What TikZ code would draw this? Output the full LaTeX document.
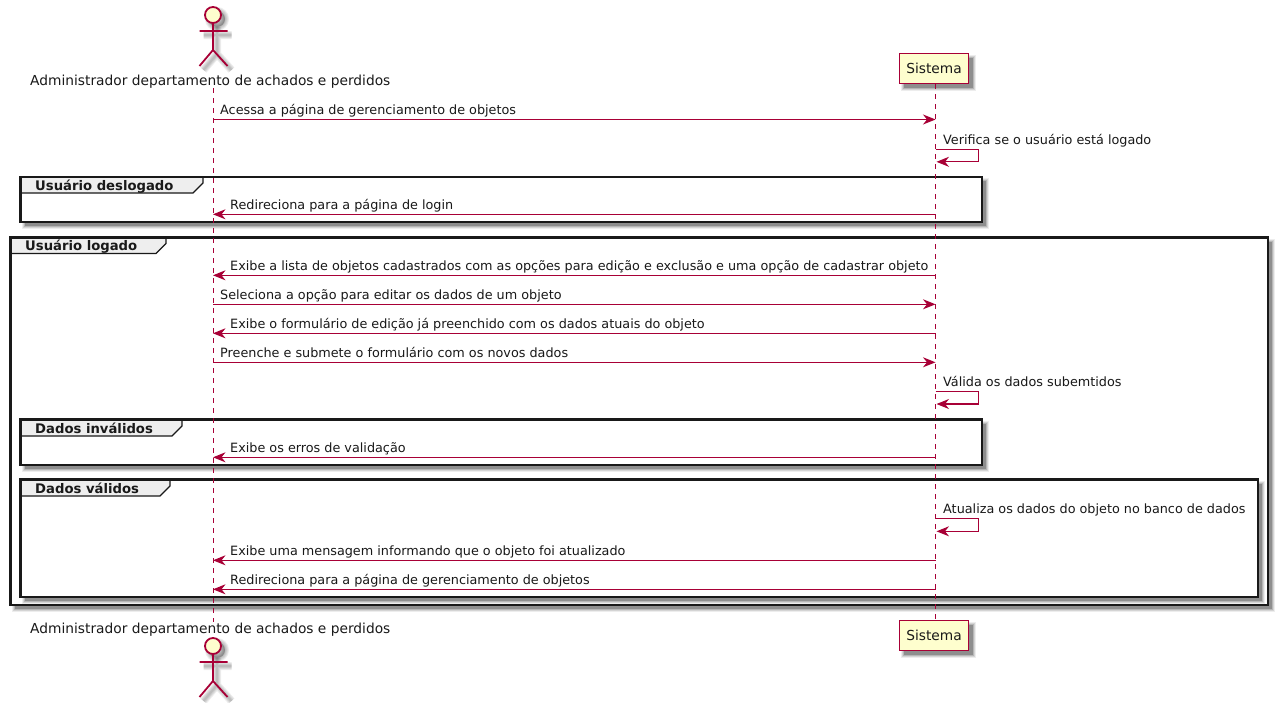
\documentclass[tikz,border=0pt]{standalone}
\usepackage{fontspec}
\setmainfont{DejaVu Sans}
\usetikzlibrary{arrows.meta}
\definecolor{puml}{HTML}{A80036}
\definecolor{pfill}{HTML}{FEFECE}
\definecolor{tabfill}{HTML}{EEEEEE}
\tikzset{
  lifeline/.style={draw=puml,line width=1pt,dash pattern=on 5pt off 5pt},
  msgline/.style={draw=puml,line width=1.1pt,-{Stealth[length=12.5pt,width=10pt,inset=4pt,fill=puml]}},
  msgtext/.style={anchor=base west,inner sep=0pt,font=\fontsize{12.79}{15}\selectfont,text=black!90},
  parttext/.style={anchor=base west,inner sep=0pt,font=\fontsize{13.77}{16}\selectfont,text=black!90},
  grouptext/.style={anchor=base west,inner sep=0pt,font=\fontsize{13.2}{15}\selectfont\bfseries,text=black!90},
  partbox/.style={draw=puml,fill=pfill,line width=1.7pt,minimum width=69pt,minimum height=30pt,inner sep=0pt,font=\fontsize{13.77}{16}\selectfont,text=black!90},
  groupframe/.style={draw=black!90,line width=2.2pt},
  tabshape/.style={draw=black!90,fill=tabfill,line width=1.1pt},
  actorline/.style={draw=puml,line width=1.8pt},
  actorshadow/.style={draw=black,opacity=0.07,line width=#1},
}
% soft shadow of a rectangle
\newcommand{\softrect}[4]{%
  \foreach \e/\o in {3/0.07,2/0.10,1/0.14,0/0.22}{%
    \fill[black,opacity=\o] ({#1+4-\e},{#2+4-\e}) rectangle ({#3+4+\e},{#4+4+\e});}}
\newcommand{\groupback}[4]{\softrect{#1}{#2}{#3}{#4}\fill[white] (#1,#2) rectangle (#3,#4);}
\newcommand{\groupfront}[7]{%
  \draw[tabshape] (#1,#2) -- (#5,#2) -- (#5,#6-10) -- (#5-10,#6) -- (#1,#6) -- cycle;
  \draw[groupframe] (#1,#2) rectangle (#3,#4);
  \node[grouptext] at (#1+14.5,#6-3) {#7};}
\newcommand{\actorsh}[1]{%
  \draw[actorshadow=#1,fill=black,fill opacity=0.07] (213,15) circle (8);
  \draw[actorshadow=#1] (213,23) -- (213,50) (199.5,31) -- (227.5,31) (199.5,66) -- (213,50) -- (227.5,66);}
\newcommand{\actorfig}[1]{%
  \begin{scope}[yshift=#1]
    \begin{scope}[shift={(4,4)}]
      \actorsh{8pt}\actorsh{6pt}\actorsh{4pt}\actorsh{2pt}
    \end{scope}
    \draw[actorline,fill=pfill] (213,15) circle (8);
    \draw[actorline] (213,23) -- (213,50) (199.5,31) -- (227.5,31) (199.5,66) -- (213,50) -- (227.5,66);
  \end{scope}}
% messages: id, y, text
\newcommand{\msgright}[3]{%
  \coordinate (a#1) at (213,#2); \coordinate (s#1) at (935.5,#2);
  \draw[msgline] (a#1) -- (s#1);
  \node[msgtext] (t#1) at (220,#2-4.9) {#3};}
\newcommand{\msgleft}[3]{%
  \coordinate (a#1) at (213,#2); \coordinate (s#1) at (935.5,#2);
  \draw[msgline] (s#1) -- (a#1);
  \node[msgtext] (t#1) at (230,#2-4.6) {#3};}
\newcommand{\msgself}[3]{%
  \coordinate (p#1) at (935.5,#2); \coordinate (q#1) at (978.5,#2); \coordinate (r#1) at (978.5,#2+12.5); \coordinate (u#1) at (936.5,#2+12.5);
  \draw[msgline] (p#1) -- (q#1) -- (r#1) -- (u#1);
  \node[msgtext] (t#1) at (943,#2-5.2) {#3};}
\begin{document}
\begin{tikzpicture}[x=1pt,y=-1pt]
\useasboundingbox (0,0) rectangle (1281,702);
\fill[white] (0,0) rectangle (1281,702);

% group backgrounds (outer first)
\groupback{10.5}{237.5}{1268}{605}
\groupback{20.5}{177}{982}{222}
\groupback{20.5}{419.5}{982}{465}
\groupback{20.5}{479.5}{1258}{597}

% tabs and frames
\groupfront{10.5}{237.5}{1268}{605}{166}{253.5}{Usuário logado}
\groupfront{20.5}{177}{982}{222}{203}{193}{Usuário deslogado}
\groupfront{20.5}{419.5}{982}{465}{182}{436}{Dados inválidos}
\groupfront{20.5}{479.5}{1258}{597}{170}{496}{Dados válidos}

% participants
\coordinate (adminTop) at (213,88);
\coordinate (adminBot) at (213,622);
\softrect{899.5}{53.5}{968.5}{83.5}
\softrect{899.5}{620.5}{968.5}{650.5}
\coordinate (sisLifeTop) at (935.5,84);
\coordinate (sisLifeBot) at (935.5,620);
\draw[lifeline] (adminTop) -- (adminBot);
\draw[lifeline] (sisLifeTop) -- (sisLifeBot);
\node[partbox] (sisTop) at (934,68.5) {Sistema};
\node[partbox] (sisBot) at (934,635.5) {Sistema};

\actorfig{0pt}
\actorfig{-631pt}
\node[parttext] (adminLabelTop) at (30,85) {Administrador departamento de achados e perdidos};
\node[parttext] (adminLabelBot) at (30,633) {Administrador departamento de achados e perdidos};

% messages
\msgright{m1}{119.5}{Acessa a página de gerenciamento de objetos}
\msgself{m2}{149.3}{Verifica se o usuário está logado}
\msgleft{m3}{214.3}{Redireciona para a página de login}
\msgleft{m4}{275.3}{Exibe a lista de objetos cadastrados com as opções para edição e exclusão e uma opção de cadastrar objeto}
\msgright{m5}{304.3}{Seleciona a opção para editar os dados de um objeto}
\msgleft{m6}{333.3}{Exibe o formulário de edição já preenchido com os dados atuais do objeto}
\msgright{m7}{362.3}{Preenche e submete o formulário com os novos dados}
\msgself{m8}{391.5}{Válida os dados subemtidos}
\msgleft{m9}{457.3}{Exibe os erros de validação}
\msgself{m10}{518.8}{Atualiza os dados do objeto no banco de dados}
\msgleft{m11}{560.3}{Exibe uma mensagem informando que o objeto foi atualizado}
\msgleft{m12}{589.3}{Redireciona para a página de gerenciamento de objetos}
\end{tikzpicture}
\end{document}
